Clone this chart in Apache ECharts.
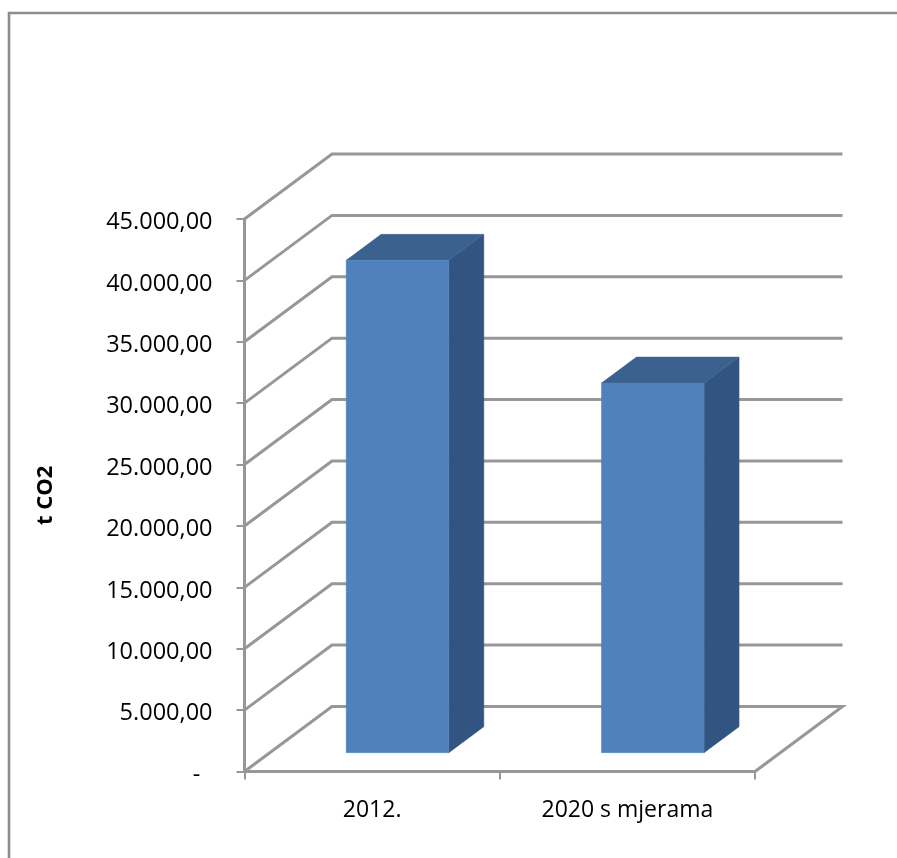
<!DOCTYPE html>
<html>
<head>
<meta charset="utf-8">
<style>html,body{margin:0;padding:0;background:#fff}#chart{width:897px;height:858px}</style>
<script src="https://cdn.jsdelivr.net/npm/echarts@6/dist/echarts.min.js"></script>
</head>
<body>
<div id="chart"></div>
<script>
const categories = ['2012.', '2020 s mjerama'];
const emissions = [40100, 30100];
const wallTicks = [0, 5000, 10000, 15000, 20000, 25000, 30000, 35000, 40000, 45000];

// Oblique projection of the chart box: how far the back wall sits from the front plane.
const DEPTH_X = 87.5, DEPTH_Y = -65;
// Bars occupy this slice of the box depth.
const BAR_NEAR = 0.29, BAR_FAR = 0.69, BAR_WIDTH = 0.402;

const GRID_COLOR = '#979797';
const FONT = '"Open Sans", Lato, sans-serif';

function formatTick(v) {
  if (v === 0) return '-  ';
  return (v / 1000).toFixed(0) + '.000,00';
}

function renderWall(params, api) {
  const rect = params.coordSys;
  const y = api.coord([0, api.value(0)])[1];
  const x0 = rect.x, x1 = rect.x + rect.width;
  const style = { stroke: GRID_COLOR, lineWidth: 3, fill: null, lineJoin: 'miter' };
  const pts = [[x0, y], [x0 + DEPTH_X, y + DEPTH_Y], [x1 + DEPTH_X, y + DEPTH_Y]];
  if (api.value(0) === 0) pts.push([x1, y]);
  return { type: 'polyline', shape: { points: pts }, style: style, silent: true };
}

function renderBar(params, api) {
  const top = api.coord([api.value(0), api.value(1)]);
  const base = api.coord([api.value(0), 0]);
  const half = api.size([1, 0])[0] * BAR_WIDTH / 2;
  const shift = (p, t) => [p[0] + DEPTH_X * t, p[1] + DEPTH_Y * t];
  const nx = base[0] - half, fx = base[0] + half;
  const A = shift([nx, top[1]], BAR_NEAR), B = shift([fx, top[1]], BAR_NEAR);
  const C = shift([fx, base[1]], BAR_NEAR), D = shift([nx, base[1]], BAR_NEAR);
  const E = shift([fx, top[1]], BAR_FAR), F = shift([nx, top[1]], BAR_FAR);
  const G = shift([fx, base[1]], BAR_FAR);
  const poly = (points, fill) => ({
    type: 'polygon', shape: { points }, style: { fill, stroke: fill, lineWidth: 0.5 }
  });
  return {
    type: 'group',
    children: [
      poly([B, E, G, C], '#325480'),
      poly([A, F, E, B], '#3B628F'),
      poly([A, B, C, D], '#4F81BD')
    ]
  };
}

const chart = echarts.init(document.getElementById('chart'), null, { renderer: 'canvas' });
chart.setOption({
  animation: false,
  backgroundColor: '#fff',
  textStyle: { fontFamily: FONT },
  grid: { left: 244.5, right: 142, top: 219, bottom: 86.5, containLabel: false },
  xAxis: {
    type: 'category',
    data: categories,
    axisLine: { show: true, lineStyle: { color: GRID_COLOR, width: 3 } },
    axisTick: { show: true, length: 8, alignWithLabel: false, lineStyle: { color: GRID_COLOR, width: 2 } },
    axisLabel: { color: '#000', fontSize: 23, fontFamily: FONT, margin: 27 },
    splitLine: { show: false }
  },
  yAxis: {
    type: 'value',
    min: 0,
    max: 45000,
    interval: 5000,
    name: 't CO2',
    nameLocation: 'middle',
    nameRotate: 90,
    nameGap: 188,
    nameTextStyle: { color: '#000', fontSize: 22, fontWeight: 'bold', fontFamily: FONT },
    axisLine: { show: true, lineStyle: { color: GRID_COLOR, width: 3 } },
    axisTick: { show: true, length: 8, lineStyle: { color: GRID_COLOR, width: 2 } },
    axisLabel: { color: '#000', fontSize: 23.5, fontFamily: FONT, margin: 32, verticalAlign: 'top', lineHeight: 7, formatter: formatTick },
    splitLine: { show: false }
  },
  graphic: [{
    type: 'polyline',
    shape: { points: [[9, 858], [9, 13], [897, 13]] },
    style: { stroke: '#8C8C8C', lineWidth: 2.6, fill: null },
    silent: true
  }],
  series: [
    {
      type: 'custom',
      renderItem: renderWall,
      data: wallTicks.map(v => [v]),
      encode: { y: 0 },
      clip: false,
      z: 1,
      silent: true
    },
    {
      type: 'custom',
      renderItem: renderBar,
      data: emissions.map((v, i) => [i, v]),
      encode: { x: 0, y: 1 },
      clip: false,
      z: 5
    }
  ]
});
</script>
</body>
</html>
